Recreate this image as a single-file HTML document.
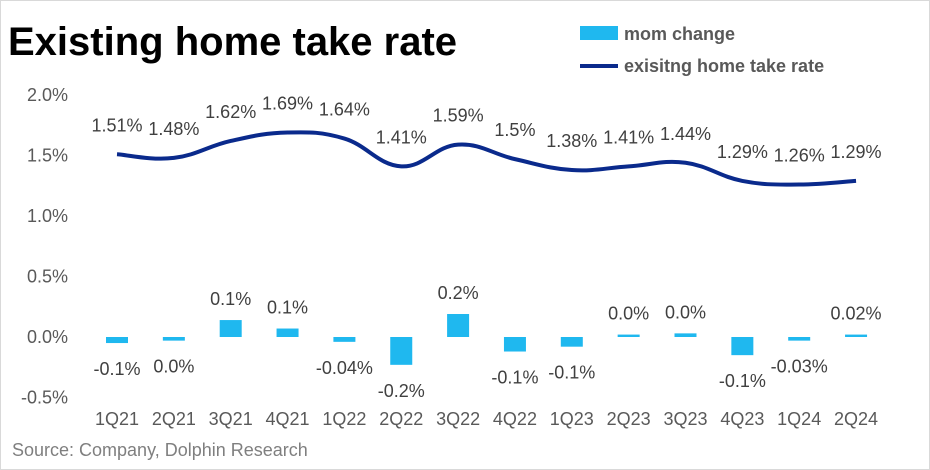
<!DOCTYPE html>
<html><head><meta charset="utf-8"><style>
body{margin:0;background:#fff;}
svg{display:block;font-family:"Liberation Sans",sans-serif;}
</style></head><body>
<svg id="c" width="930" height="470">
<rect x="0.5" y="0.5" width="929" height="469" fill="#fff" stroke="#d9d9d9"/>
<text x="8" y="55" font-size="40" font-weight="bold" fill="#000">Existing home take rate</text>
<rect x="580" y="26" width="38" height="14" fill="#1fb8ef"/>
<text x="624" y="40" font-size="18" font-weight="bold" fill="#595959">mom change</text>
<line x1="580" y1="66" x2="618" y2="66" stroke="#0a2a8c" stroke-width="4"/>
<text x="624" y="72" font-size="18" font-weight="bold" fill="#595959">exisitng home take rate</text>
<text x="12" y="456" font-size="18" fill="#7f7f7f">Source: Company, Dolphin Research</text>
<g id="g"></g>
</svg>
<script>
const categories=["1Q21","2Q21","3Q21","4Q21","1Q22","2Q22","3Q22","4Q22","1Q23","2Q23","3Q23","4Q23","1Q24","2Q24"];
const rateValues=[1.51,1.48,1.62,1.69,1.64,1.41,1.59,1.47,1.38,1.41,1.44,1.29,1.26,1.29];
const rateLabels=["1.51%","1.48%","1.62%","1.69%","1.64%","1.41%","1.59%","1.5%","1.38%","1.41%","1.44%","1.29%","1.26%","1.29%"];
const momValues=[-0.05,-0.03,0.14,0.07,-0.04,-0.23,0.19,-0.12,-0.08,0.02,0.03,-0.15,-0.03,0.02];
const momLabels=["-0.1%","0.0%","0.1%","0.1%","-0.04%","-0.2%","0.2%","-0.1%","-0.1%","0.0%","0.0%","-0.1%","-0.03%","0.02%"];
const yTicks=[-0.5,0,0.5,1.0,1.5,2.0];
const yTickLabels=["-0.5%","0.0%","0.5%","1.0%","1.5%","2.0%"];
const NS="http://www.w3.org/2000/svg";
const g=document.getElementById('g');
const x=i=>117+i*56.85;
const y=v=>337-v*121;
function mk(t,a,txt){const e=document.createElementNS(NS,t);for(const k in a)e.setAttribute(k,a[k]);if(txt!==undefined)e.textContent=txt;g.appendChild(e);return e;}
yTicks.forEach((v,i)=>{
 const e=mk('text',{x:68,y:y(v)+6,'font-size':18,fill:'#595959','text-anchor':'end'},yTickLabels[i]);
 
 
});
categories.forEach((c,i)=>{
 const e=mk('text',{x:x(i),y:425,'font-size':18,fill:'#595959','text-anchor':'middle'},c);
 
 
});
momValues.forEach((v,i)=>{
 const y0=y(0),y1=y(v);
 const b=mk('rect',{x:x(i)-11,y:Math.min(y0,y1),width:22,height:Math.max(1.5,Math.abs(y1-y0)),fill:'#1fb8ef'});
 
 
 const ly=v>=0?y1-15:y1+32;
 const t=mk('text',{x:x(i),y:ly,'font-size':18,fill:'#404040','text-anchor':'middle'},momLabels[i]);
 
 
});
const pts=rateValues.map((v,i)=>[x(i),y(v)]);
let d='M'+pts[0][0]+','+pts[0][1];
for(let i=0;i<pts.length-1;i++){
 const p0=pts[Math.max(0,i-1)],p1=pts[i],p2=pts[i+1],p3=pts[Math.min(pts.length-1,i+2)];
 const tt=0.2;
 d+=` C${p1[0]+(p2[0]-p0[0])*tt},${p1[1]+(p2[1]-p0[1])*tt} ${p2[0]-(p3[0]-p1[0])*tt},${p2[1]-(p3[1]-p1[1])*tt} ${p2[0]},${p2[1]}`;
}
const ln=mk('path',{d:d,fill:'none',stroke:'#0a2a8c','stroke-width':4});


rateValues.forEach((v,i)=>{
 const t=mk('text',{x:x(i),y:y(v)-23,'font-size':18,fill:'#404040','text-anchor':'middle'},rateLabels[i]);
 
 
});
</script>
</body></html>
